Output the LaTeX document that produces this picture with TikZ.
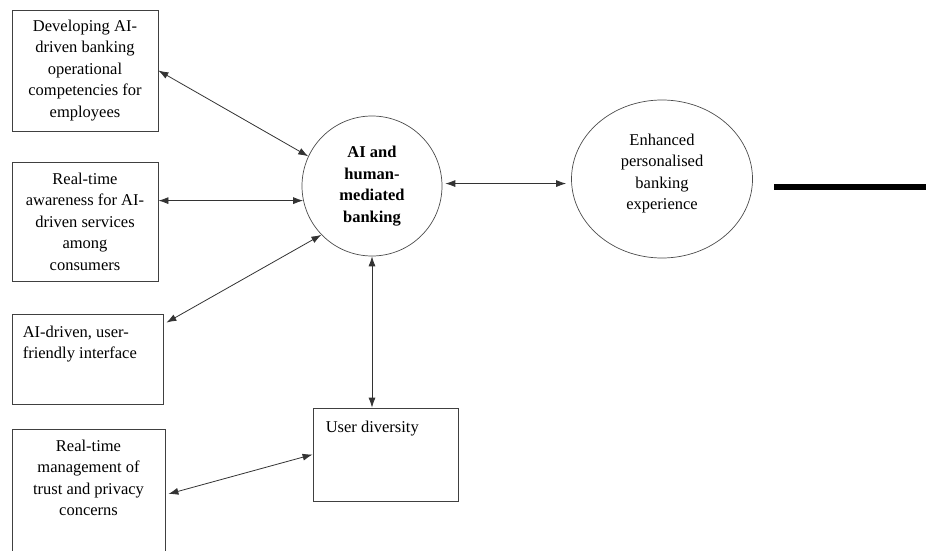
\documentclass[tikz,border=0pt]{standalone}
\usepackage{fontspec}
\setmainfont{Liberation Serif}
\usetikzlibrary{arrows.meta, shapes.geometric, positioning, calc}
\tikzset{
  factorbox/.style={
    rectangle, draw=black!75, line width=0.8pt, inner sep=0pt
  },
  txt/.style={inner sep=0pt, align=center, font=\fontsize{16.5}{21.5}\selectfont},
  link/.style={{Latex[length=10pt,width=7pt]}-{Latex[length=10pt,width=7pt]}, line width=0.8pt, draw=black!80}
}

\begin{document}
\begin{tikzpicture}[
    x=1pt, y=1pt,
    every node/.style={font=\fontsize{16.5}{21.5}\selectfont},
    hub/.style={circle, draw=black!70, line width=0.7pt, minimum size=140pt, inner sep=0pt, align=center},
    outcome/.style={ellipse, draw=black!70, line width=0.7pt, minimum width=181pt, minimum height=158pt, inner sep=0pt, align=center}
    ]
    \useasboundingbox (0,0) rectangle (926,550);

    % Factors on the left
    \node[factorbox, minimum width=146pt, minimum height=121pt, align=center] (dev) at (85,479.5)
      {Developing AI-\\driven banking\\operational\\competencies for\\employees};
    \node[factorbox, minimum width=146pt, minimum height=119pt, align=center] (aware) at (85,328.5)
      {Real-time\\awareness for AI-\\driven services\\among\\consumers};
    \node[factorbox, minimum width=151pt, minimum height=90pt] (iface) at (87.5,191) {};
    \node[txt, align=left, below right=12pt and 11pt of iface.north west] (ifacetxt)
      {AI-driven, user-\\friendly interface};
    \node[factorbox, minimum width=153pt, minimum height=141pt] (trust) at (88.5,50.5) {};
    \node[txt, below=11pt of trust.north] (trusttxt)
      {Real-time\\management of\\trust and privacy\\concerns};

    % Centre and outcome
    \node[hub, font=\fontsize{16.5}{21.5}\selectfont\bfseries] (ai) at (372,364)
      {AI and\\human-\\mediated\\banking};
    \node[outcome] (enh) at (662,371)
      {Enhanced\\personalised\\banking\\experience\\[-7pt]};
    \node[factorbox, minimum width=145pt, minimum height=93pt] (user) at (385.5,95.5) {};
    \node[txt, align=left, below right=13pt and 13pt of user.north west] (usertxt) {User diversity};

    % Links
    \draw[link] (dev.east) -- (ai.155);
    \draw[link] (aware.east |- ai.192) -- (ai.192);
    \draw[link] ($(iface.north east)+(3,-9)$) -- (ai.224);
    \draw[link] (ai.south) -- (ai.south |- user.north);
    \draw[link] ($(trust.east)+(3,5.5)$) -- (user.west);
    \draw[link, shorten <=3pt, shorten >=5pt] (ai.2) -- (ai.2 -| enh.west);

    % Bar on the right
    \coordinate (barL) at (774,363);
    \coordinate (barR) at (926,363);
    \draw[line width=5.5pt] (barL) -- (barR);
\end{tikzpicture}
\end{document}
